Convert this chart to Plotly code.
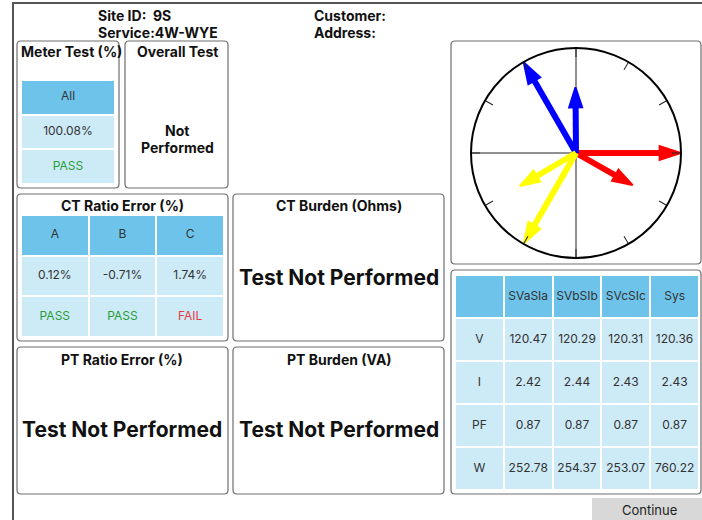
import math
import plotly.graph_objects as go

# ---------------- data ----------------
site_id = "9S"
service = "4W-WYE"
meter_label = "All"
meter_value = 100.08
meter_result = "PASS"
overall_result = ["Not", "Performed"]

ct_phases = ["A", "B", "C"]
ct_errors = [0.12, -0.71, 1.74]
ct_results = ["PASS", "PASS", "FAIL"]

meas_cols = ["SVaSIa", "SVbSIb", "SVcSIc", "Sys"]
meas_rows = ["V", "I", "PF", "W"]
volts = [120.47, 120.29, 120.31, 120.36]
amps = [2.42, 2.44, 2.43, 2.43]
pfs = [0.87, 0.87, 0.87, 0.87]
watts = [252.78, 254.37, 253.07, 760.22]

v_angles = [0, 120, 240]
phase_colors = ["#ff0000", "#0000ff", "#ffff00"]

# ---------------- styling ----------------
W, H = 702, 520
FONT = "Inter"
HDR = "#6ec3ea"
LIGHT = "#cdeaf7"
TXT = "#333333"
GREEN = "#2a9d3a"
RED = "#e8393f"
BORDER = "#6e6e6e"


def px(x):
    return x / W


def py(y):
    return 1 - y / H


def rrect(x0, y0, x1, y1, r=4):
    pts = [
        ("M", [(x0 + r, y0)]), ("L", [(x1 - r, y0)]), ("Q", [(x1, y0), (x1, y0 + r)]),
        ("L", [(x1, y1 - r)]), ("Q", [(x1, y1), (x1 - r, y1)]), ("L", [(x0 + r, y1)]),
        ("Q", [(x0, y1), (x0, y1 - r)]), ("L", [(x0, y0 + r)]), ("Q", [(x0, y0), (x0 + r, y0)]),
    ]
    s = ""
    for cmd, ps in pts:
        s += cmd + " ".join(f"{px(a):.5f},{py(b):.5f}" for a, b in ps)
    return s + "Z"


fig = go.Figure()
shapes = []
ann = []


def text(x, y, s, size=13, bold=False, color="#111", xanchor="center"):
    ann.append(dict(x=px(x), y=py(y), xref="paper", yref="paper", text=(f"<b>{s}</b>" if bold else s),
                    showarrow=False, xanchor=xanchor, yanchor="middle",
                    font=dict(family=FONT, size=size, color=color)))


# outer frame
shapes.append(dict(type="line", xref="paper", yref="paper", x0=px(13), x1=px(13), y0=py(2), y1=py(521),
                   line=dict(color="#555", width=2)))
shapes.append(dict(type="line", xref="paper", yref="paper", x0=px(12), x1=px(703), y0=py(3), y1=py(3),
                   line=dict(color="#555", width=2)))

# panel boxes
boxes = [(17, 41, 119, 188), (125, 41, 228, 188), (17, 194, 228, 341), (233, 194, 444, 341),
         (17, 347, 228, 494), (233, 347, 444, 494), (451, 41, 701, 264), (451, 270, 701, 494)]
for b in boxes:
    shapes.append(dict(type="path", xref="paper", yref="paper", path=rrect(*b, r=4),
                       line=dict(color=BORDER, width=1.2), layer="below"))

# Continue button
shapes.append(dict(type="rect", xref="paper", yref="paper", x0=px(592), x1=px(703), y0=py(498), y1=py(521),
                   fillcolor="#d8d8d8", line=dict(width=0)))
text(649, 510, "Continue", size=13, color="#222")

# header text
text(96, 15, f"Site ID:\u00a0 {site_id}", size=14, bold=True, xanchor="left")
text(96, 32, f"Service:{service}", size=14, bold=True, xanchor="left")
text(312, 15, "Customer:", size=14, bold=True, xanchor="left")
text(312, 32, "Address:", size=14, bold=True, xanchor="left")

# panel titles
text(19, 52, "Meter Test (%)", size=14, bold=True, xanchor="left")
text(177, 52, "Overall Test", size=14, bold=True)
text(177, 130, overall_result[0], size=14, bold=True)
text(177, 147, overall_result[1], size=14, bold=True)
text(122, 206, "CT Ratio Error (%)", size=14, bold=True)
text(339, 206, "CT Burden (Ohms)", size=14, bold=True)
text(122, 359, "PT Ratio Error (%)", size=14, bold=True)
text(339, 359, "PT Burden (VA)", size=14, bold=True)
text(339, 277, "Test Not Performed", size=21, bold=True)
text(122, 429, "Test Not Performed", size=21, bold=True)
text(339, 429, "Test Not Performed", size=21, bold=True)

CS = [[0, HDR], [1, LIGHT]]


def grid_table(cells, colors, z, ax, x0, y0, x1, y1, size=12):
    nrows, ncols = len(cells), len(cells[0])
    fig.add_trace(go.Heatmap(z=z, x=list(range(ncols)), y=list(range(nrows)), colorscale=CS, zmin=0, zmax=1,
                             showscale=False, xgap=2, ygap=2, hoverinfo="skip",
                             xaxis="x" + ax, yaxis="y" + ax))
    xs, ys, ts, cs = [], [], [], []
    for r in range(nrows):
        for c in range(ncols):
            xs.append(c); ys.append(r); ts.append(cells[r][c]); cs.append(colors[r][c])
    fig.add_trace(go.Scatter(x=xs, y=ys, text=ts, mode="text", textposition="middle center",
                             textfont=dict(family=FONT, size=size, color=cs), hoverinfo="skip",
                             xaxis="x" + ax, yaxis="y" + ax))
    fig.update_layout(**{
        "xaxis" + ax: dict(domain=[px(x0), px(x1)], range=[-0.5, ncols - 0.5], visible=False, fixedrange=True,
                           anchor="y" + ax),
        "yaxis" + ax: dict(domain=[py(y1), py(y0)], range=[nrows - 0.5, -0.5], visible=False, fixedrange=True,
                           anchor="x" + ax),
    })


def rescolor(r):
    return GREEN if r == "PASS" else RED


# Meter test table
grid_table([[meter_label], [f"{meter_value:.2f}%"], [meter_result]],
           [[TXT], [TXT], [rescolor(meter_result)]],
           [[0], [1], [1]], "2", 21, 80, 115, 184)

# CT ratio table
grid_table([ct_phases, [f"{e:.2f}%" for e in ct_errors], ct_results],
           [[TXT] * 3, [TXT] * 3, [rescolor(r) for r in ct_results]],
           [[0] * 3, [1] * 3, [1] * 3], "3", 21, 215, 224, 337)

# measurement table
rows_vals = [volts, amps, pfs, watts]
cells = [[""] + meas_cols] + [[meas_rows[i]] + [f"{v:.2f}" for v in rows_vals[i]] for i in range(4)]
grid_table(cells, [[TXT] * 5 for _ in range(5)], [[0] * 5] + [[1] * 5 for _ in range(4)],
           "4", 455, 275, 699, 490)

# ---------------- phasor diagram ----------------
RMAX = 121.0
I_SCALE = 31.0
for a in (0, 90):
    fig.add_trace(go.Scatterpolar(r=[RMAX, 0, RMAX], theta=[a, a, a + 180], mode="lines",
                                  line=dict(color="#222", width=1), hoverinfo="skip", subplot="polar"))

pf_angle = math.degrees(math.acos(pfs[0]))
for k in range(3):
    for mag, ang, lw, ms in ((volts[k], v_angles[k], 6, 22), (amps[k] * I_SCALE, v_angles[k] - pf_angle, 6, 21)):
        fig.add_trace(go.Scatterpolar(r=[0, mag - 10], theta=[ang, ang], mode="lines",
                                      line=dict(color=phase_colors[k], width=lw), hoverinfo="skip",
                                      subplot="polar"))
        fig.add_trace(go.Scatterpolar(r=[mag], theta=[ang], mode="markers",
                                      marker=dict(symbol="arrow", size=ms, angle=90 - ang,
                                                  color=phase_colors[k],
                                                  line=dict(width=2, color=phase_colors[k])),
                                      hoverinfo="skip", subplot="polar"))

fig.update_layout(
    polar=dict(domain=dict(x=[px(471), px(681)], y=[py(258), py(48)]), bgcolor="white",
               radialaxis=dict(visible=False, range=[0, RMAX]),
               angularaxis=dict(rotation=0, direction="counterclockwise", showline=True, linecolor="black",
                                linewidth=2, ticks="inside", ticklen=8, tickwidth=1, tickcolor="#222",
                                tickvals=list(range(0, 360, 30)), showticklabels=False, showgrid=False)),
)

fig.update_layout(width=W, height=H, margin=dict(l=0, r=0, t=0, b=0), paper_bgcolor="white",
                  plot_bgcolor="white", showlegend=False, shapes=shapes, annotations=ann,
                  font=dict(family=FONT))
fig.write_html("out.html", config={"displayModeBar": False},
               post_script="document.body.style.margin='0px';document.body.style.overflow='hidden';")
